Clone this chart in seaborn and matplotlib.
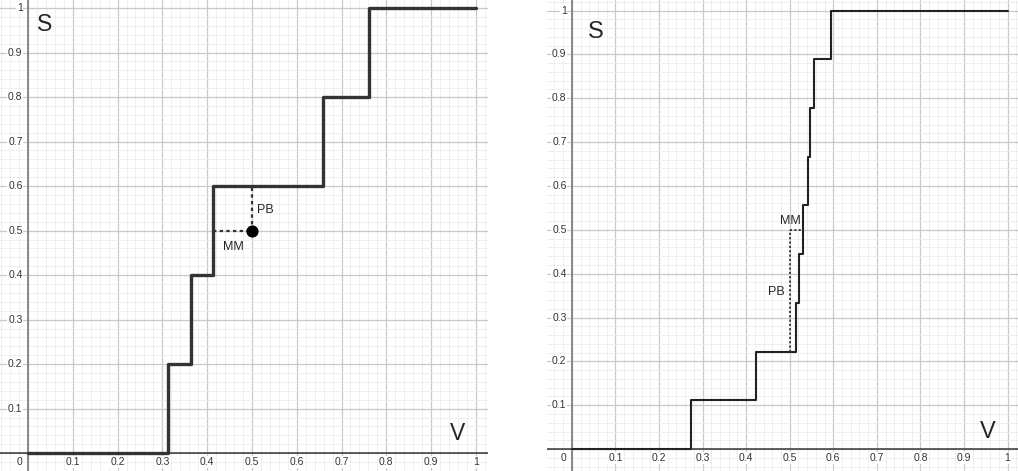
"""
Two step curves (S against V) drawn on a GeoGebra-style grid.
"""

import numpy as np
import matplotlib.pyplot as plt
import seaborn as sns

# left panel: step curve, the point and its dotted distances
left_v = [0.0, 0.312, 0.365, 0.414, 0.658, 0.761, 1.0]
left_s = [0.0, 0.2, 0.4, 0.6, 0.8, 1.0, 1.0]
left_point = (0.5, 0.5)
left_mm_v = [0.414, 0.5]
left_mm_s = [0.5, 0.5]
left_pb_v = [0.5, 0.5]
left_pb_s = [0.5, 0.6]

# right panel: nine-step curve and dotted distances
right_v = [0.0, 0.274, 0.422, 0.514, 0.522, 0.530, 0.541, 0.547, 0.556, 0.595, 1.0]
right_s = [0.0, 1 / 9, 2 / 9, 3 / 9, 4 / 9, 5 / 9, 6 / 9, 7 / 9, 8 / 9, 1.0, 1.0]
right_mm_v = [0.5, 0.527]
right_mm_s = [0.5, 0.5]
right_pb_v = [0.5, 0.5]
right_pb_s = [2 / 9, 0.5]

tick_values = [0.1, 0.2, 0.3, 0.4, 0.5, 0.6, 0.7, 0.8, 0.9, 1.0]
tick_labels = ["0.1", "0.2", "0.3", "0.4", "0.5", "0.6", "0.7", "0.8", "0.9", "1"]

sns.set_theme(style="white")
plt.rcParams["font.family"] = ["Liberation Sans", "DejaVu Sans"]

W, H = 1018, 471
fig = plt.figure(figsize=(W / 100, H / 100), dpi=100)


def draw_grid(ax, label_dx, label_dy):
    ax.set_xticks(np.arange(0, 1.001, 0.1))
    ax.set_yticks(np.arange(0, 1.001, 0.1))
    ax.set_xticks(np.arange(-0.06, 1.04, 0.02), minor=True)
    ax.set_yticks(np.arange(-0.06, 1.04, 0.02), minor=True)
    ax.grid(which="major", color="#c9c9c9", linewidth=0.9)
    ax.grid(which="minor", color="#ececec", linewidth=0.6)
    ax.tick_params(which="both", length=0, labelbottom=False, labelleft=False)
    for sp in ax.spines.values():
        sp.set_visible(False)
    ax.axhline(0, color="#444444", linewidth=1.2, zorder=2)
    ax.axvline(0, color="#888888", linewidth=1.4, zorder=2)
    box = dict(facecolor="white", edgecolor="none", pad=0.6)
    for v, lab in zip(tick_values, tick_labels):
        ax.text(v, label_dy, lab, ha="center", va="center", fontsize=7.5,
                color="#333333", bbox=box, zorder=3)
        ax.text(label_dx, v, lab, ha="right", va="center", fontsize=7.5,
                color="#333333", bbox=box, zorder=3)
    ax.text(label_dx, label_dy, "0", ha="right", va="center", fontsize=7.5,
            color="#333333", bbox=box, zorder=3)


# left panel
ax1 = fig.add_axes([0, 0, 488 / W, 1])
draw_grid(ax1, -0.012, -0.02)
sns.lineplot(x=left_v, y=left_s, ax=ax1, drawstyle="steps-post",
             color="#333333", linewidth=2.4, zorder=4)
ax1.plot(left_mm_v, left_mm_s, linestyle=(0, (1.5, 1.5)), color="#333333",
         linewidth=1.6, zorder=4)
ax1.plot(left_pb_v, left_pb_s, linestyle=(0, (1.5, 1.5)), color="#333333",
         linewidth=1.6, zorder=4)
ax1.scatter([left_point[0]], [left_point[1]], s=60, color="black", zorder=5)
ax1.text(0.531, 0.546, "PB", fontsize=9, va="center", ha="center")
ax1.text(0.458, 0.463, "MM", fontsize=9, va="center", ha="center")
ax1.text(0.02, 0.962, "S", fontsize=16.5, va="center", ha="left")
ax1.text(0.975, 0.045, "V", fontsize=16.5, va="center", ha="right")
ax1.set_xlim(-0.0625, 1.027)
ax1.set_ylim(-0.04, 1.018)
ax1.set_xlabel("")
ax1.set_ylabel("")

# right panel
ax2 = fig.add_axes([547 / W, 0, (W - 547) / W, 1])
draw_grid(ax2, -0.012, -0.02)
sns.lineplot(x=right_v, y=right_s, ax=ax2, drawstyle="steps-post",
             color="#222222", linewidth=1.5, zorder=4)
ax2.plot(right_mm_v, right_mm_s, linestyle=(0, (1.2, 1.2)), color="#333333",
         linewidth=1.3, zorder=4)
ax2.plot(right_pb_v, right_pb_s, linestyle=(0, (1.2, 1.2)), color="#333333",
         linewidth=1.3, zorder=4)
ax2.text(0.502, 0.52, "MM", fontsize=9, va="center", ha="center")
ax2.text(0.469, 0.358, "PB", fontsize=9, va="center", ha="center")
ax2.text(0.055, 0.95, "S", fontsize=17, va="center", ha="center")
ax2.text(0.955, 0.04, "V", fontsize=17, va="center", ha="center")
ax2.set_xlim(-0.057, 1.024)
ax2.set_ylim(-0.05, 1.024)
ax2.set_xlabel("")
ax2.set_ylabel("")

fig.savefig("out.png", dpi=100)
plt.close(fig)
